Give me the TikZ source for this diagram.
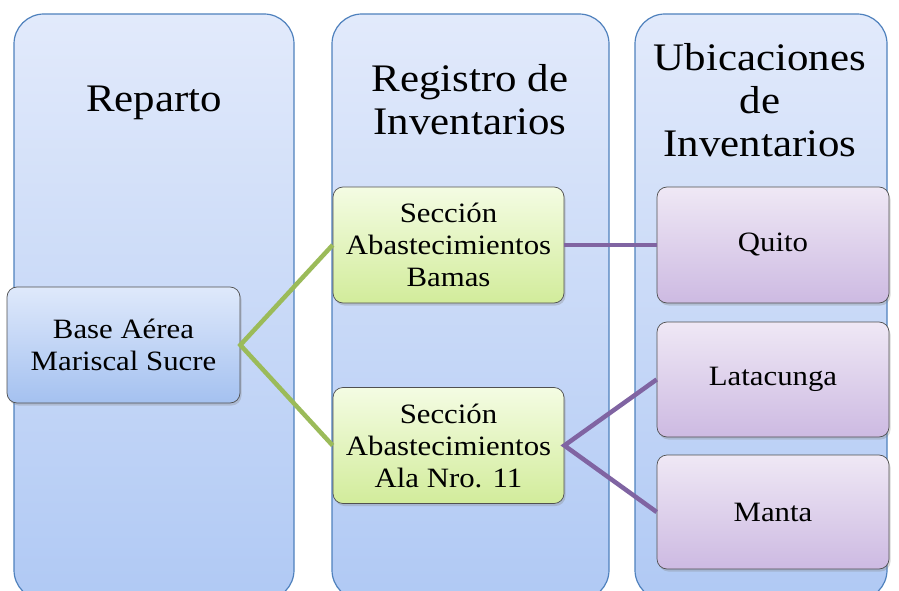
\documentclass[tikz,border=0pt]{standalone}
\usepackage{fontspec}
\setmainfont{Liberation Serif}[FakeStretch=1.1]
\usetikzlibrary{shadows}

\definecolor{colborder}{HTML}{4F81BD}
\definecolor{coltop}{HTML}{E2EAFB}
\definecolor{colbot}{HTML}{B0C9F4}
\definecolor{boxborder}{HTML}{505050}
\definecolor{basetop}{HTML}{DFE9FB}
\definecolor{basebot}{HTML}{A4C1F0}
\definecolor{greentop}{HTML}{F4FCE3}
\definecolor{greenbot}{HTML}{D2EC9B}
\definecolor{purptop}{HTML}{EFE8F5}
\definecolor{purpbot}{HTML}{CDBAE2}
\definecolor{greenline}{HTML}{9BBB59}
\definecolor{purpline}{HTML}{8064A2}

\tikzset{
	column/.style={draw=colborder, line width=1.2pt, rounded corners=30pt,
		top color=coltop, bottom color=colbot},
	coltitle/.style={align=center, inner sep=0pt, font=\fontsize{39}{43}\selectfont},
	box/.style={draw=boxborder, line width=0.7pt, rounded corners=10pt,
		minimum width=232pt, minimum height=116pt, align=center,
		font=\fontsize{28}{32}\selectfont,
		drop shadow={shadow xshift=1.5pt, shadow yshift=-2.5pt, opacity=0.3}},
	basebox/.style={box, top color=basetop, bottom color=basebot},
	greenbox/.style={box, top color=greentop, bottom color=greenbot},
	purpbox/.style={box, top color=purptop, bottom color=purpbot},
	greenlink/.style={draw=greenline, line width=4.5pt},
	purplink/.style={draw=purpline, line width=4.5pt}
}

\begin{document}
\begin{tikzpicture}[x=1pt, y=1pt]

	\useasboundingbox (0,0) rectangle (899,590);
	\clip (0,0) rectangle (899,590);

	% columns
	\draw [column] (14,-10) rectangle (294,576);
	\node [coltitle] (reparto) at (154,487) {Reparto};

	\draw [column] (332,-10) rectangle (609,576);
	\node [coltitle] (registro) at (470,490.5) {Registro de\\Inventarios};

	\draw [column] (635,-10) rectangle (887,576);
	\node [coltitle] (ubicaciones) at (760,489.5) {Ubicaciones\\de\\Inventarios};

	% reparto
	\node [basebox, minimum width=233pt] (base) at (123.5,245) {Base Aérea\\Mariscal Sucre};

	% registro de inventarios
	\node [greenbox, minimum width=231pt] (bamas) at (448.5,345) {Sección\\Abastecimientos\\Bamas};
	\node [greenbox, minimum width=231pt] (ala) at (448.5,144.5) {Sección\\Abastecimientos\\Ala Nro. 11};

	% ubicaciones de inventarios
	\node [purpbox] (quito) at (773,345) {Quito};
	\node [purpbox, minimum height=115pt] (latacunga) at (773,210.5) {Latacunga};
	\node [purpbox, minimum height=114pt] (manta) at (773,78) {Manta};

	% links
	\draw [greenlink] (bamas.west) -- (base.east) -- (ala.west);
	\draw [purplink] (bamas.east) -- (quito.west);
	\draw [purplink] (latacunga.west) -- (ala.east) -- (manta.west);

\end{tikzpicture}
\end{document}
